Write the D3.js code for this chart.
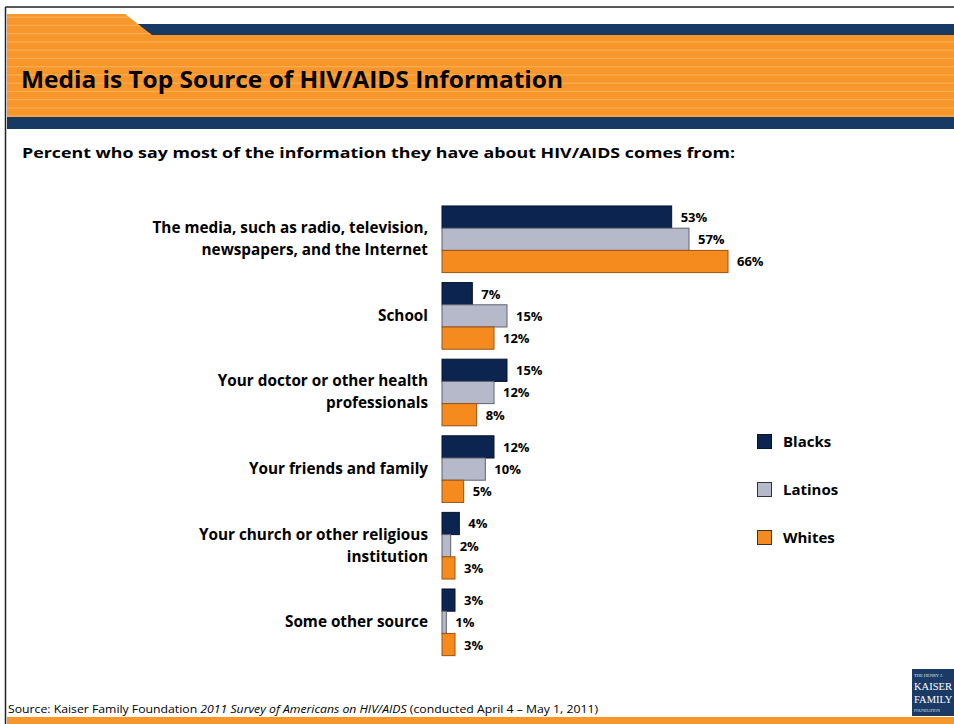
<!DOCTYPE html>
<html>
<head>
<meta charset="utf-8">
<script src="https://cdn.jsdelivr.net/npm/d3@7"></script>
<style>
  html, body { margin: 0; padding: 0; background: #fff; }
  svg { display: block; }
  text { font-family: "Open Sans", "Noto Sans", "Liberation Sans", sans-serif; }
</style>
</head>
<body>
<svg id="chart" width="954" height="724"></svg>
<script>
// ---- Data ----
const categories = [
  "The media, such as radio, television,|newspapers, and the Internet",
  "School",
  "Your doctor or other health|professionals",
  "Your friends and family",
  "Your church or other religious|institution",
  "Some other source"
];
const seriesNames = ["Blacks", "Latinos", "Whites"];
const blacks  = [53, 7, 15, 12, 4, 3];
const latinos = [57, 15, 12, 10, 2, 1];
const whites  = [66, 12, 8, 5, 3, 3];
const seriesValues = [blacks, latinos, whites];

const titleText = "Media is Top Source of HIV/AIDS Information";
const subtitleText = "Percent who say most of the information they have about HIV/AIDS comes from:";

// ---- Styles ----
const fills   = ["#0b2450", "#b6b9c9", "#f58b1f"];
const strokes = ["#06142e", "#5f6270", "#9a5212"];
const navy = "#173a64";
const orange = "#f7972b";

const svg = d3.select("#chart");
const W = 954, H = 724;

// ---- Header decoration ----
svg.append("rect").attr("x", 0).attr("y", 0).attr("width", W).attr("height", H).attr("fill", "#fff");
svg.append("rect").attr("x", 130).attr("y", 24).attr("width", W - 130).attr("height", 11.5).attr("fill", navy);
const hdrPath = `M7,14 L125,14 L152,35 L${W},35 L${W},117 L7,117 Z`;
svg.append("path").attr("d", hdrPath).attr("fill", orange);
const clip = svg.append("clipPath").attr("id", "hdrclip");
clip.append("path").attr("d", hdrPath);
const stripeG = svg.append("g").attr("clip-path", "url(#hdrclip)");
d3.range(16.5, 117, 8.25).forEach(y => {
  stripeG.append("rect").attr("x", 0).attr("y", y).attr("width", W).attr("height", 1.3)
    .attr("fill", "#fbb358").attr("opacity", 0.75);
});
svg.append("rect").attr("x", 7).attr("y", 117).attr("width", W - 7).attr("height", 12).attr("fill", navy);
// borders
svg.append("line").attr("x1", 5.5).attr("x2", W).attr("y1", 7).attr("y2", 7)
  .attr("stroke", "#222").attr("stroke-width", 1.5);
svg.append("line").attr("x1", 5.5).attr("x2", 5.5).attr("y1", 7).attr("y2", H)
  .attr("stroke", "#222").attr("stroke-width", 1.5);
// bottom orange strip
svg.append("rect").attr("x", 7).attr("y", 717).attr("width", W - 7).attr("height", 7).attr("fill", orange);

// Title
svg.append("text").attr("x", 21).attr("y", 88)
  .attr("font-size", 24).attr("font-weight", 700).attr("fill", "#000")
  .attr("textLength", 542).attr("lengthAdjust", "spacingAndGlyphs")
  .text(titleText);

// Subtitle
svg.append("text").attr("x", 22).attr("y", 157.5)
  .attr("font-size", 15).attr("font-weight", 700).attr("fill", "#000")
  .attr("textLength", 713).attr("lengthAdjust", "spacingAndGlyphs")
  .text(subtitleText);

// ---- Chart ----
const x = d3.scaleLinear().domain([0, 66]).range([442, 728]);
const y = d3.scaleBand().domain(d3.range(categories.length)).range([196, 665.6])
  .paddingInner(0.13).paddingOuter(0.13);
const ySub = d3.scaleBand().domain(d3.range(seriesNames.length)).range([0, y.bandwidth()]);

const groups = svg.append("g").selectAll("g").data(categories).join("g")
  .attr("transform", (d, i) => `translate(0,${y(i)})`);

groups.each(function(cat, i) {
  const g = d3.select(this);
  seriesNames.forEach((s, j) => {
    const v = seriesValues[j][i];
    g.append("rect")
      .attr("x", x(0)).attr("y", ySub(j))
      .attr("width", x(v) - x(0)).attr("height", ySub.bandwidth())
      .attr("fill", fills[j]).attr("stroke", strokes[j]).attr("stroke-width", 1);
    g.append("text")
      .attr("x", x(v) + 9).attr("y", ySub(j) + ySub.bandwidth() / 2 + 5)
      .attr("font-size", 13).attr("font-weight", 700).attr("fill", "#000")
      .text(v + "%");
  });
  const lines = cat.split("|");
  const cy = y.bandwidth() / 2;
  const lh = 22;
  const t = g.append("text").attr("text-anchor", "end")
    .attr("font-size", 15.3).attr("font-weight", 700).attr("fill", "#000");
  lines.forEach((ln, k) => {
    t.append("tspan").attr("x", 428)
      .attr("y", cy + 5 + (k - (lines.length - 1) / 2) * lh)
      .text(ln);
  });
});

// ---- Legend ----
const legend = svg.append("g").attr("transform", "translate(757,434)");
seriesNames.forEach((s, j) => {
  legend.append("rect").attr("x", 0.5).attr("y", j * 48 + 0.5).attr("width", 14).attr("height", 14)
    .attr("fill", fills[j]).attr("stroke", j === 0 ? "#06142e" : "#333").attr("stroke-width", 1);
  legend.append("text").attr("x", 26).attr("y", j * 48 + 13)
    .attr("font-size", 15).attr("font-weight", 700).attr("fill", "#000").text(s);
});

// ---- Source ----
const src = svg.append("text").attr("x", 8).attr("y", 713).attr("font-size", 11).attr("fill", "#000")
  .attr("textLength", 590).attr("lengthAdjust", "spacingAndGlyphs");
src.append("tspan").text("Source: Kaiser Family Foundation ");
src.append("tspan").attr("font-style", "italic").text("2011 Survey of Americans on HIV/AIDS");
src.append("tspan").text(" (conducted April 4 \u2013 May 1, 2011)");

// ---- Logo ----
const logo = svg.append("g").attr("transform", "translate(912,669)");
logo.append("rect").attr("x", 0).attr("y", 0).attr("width", 42).attr("height", 47).attr("fill", "#1b3a66");
const lf = "Liberation Serif, DejaVu Serif, serif";
logo.append("text").attr("x", 2).attr("y", 8).attr("font-size", 4.5).attr("fill", "#dfe6f0")
  .style("font-family", lf).text("THE HENRY J.");
logo.append("text").attr("x", 2).attr("y", 21).attr("font-size", 10.5).attr("fill", "#fff")
  .style("font-family", lf).text("KAISER");
logo.append("text").attr("x", 2).attr("y", 34).attr("font-size", 10.5).attr("fill", "#fff")
  .style("font-family", lf).text("FAMILY");
logo.append("text").attr("x", 2).attr("y", 43).attr("font-size", 4).attr("fill", "#dfe6f0")
  .style("font-family", lf).text("FOUNDATION");
</script>
</body>
</html>
